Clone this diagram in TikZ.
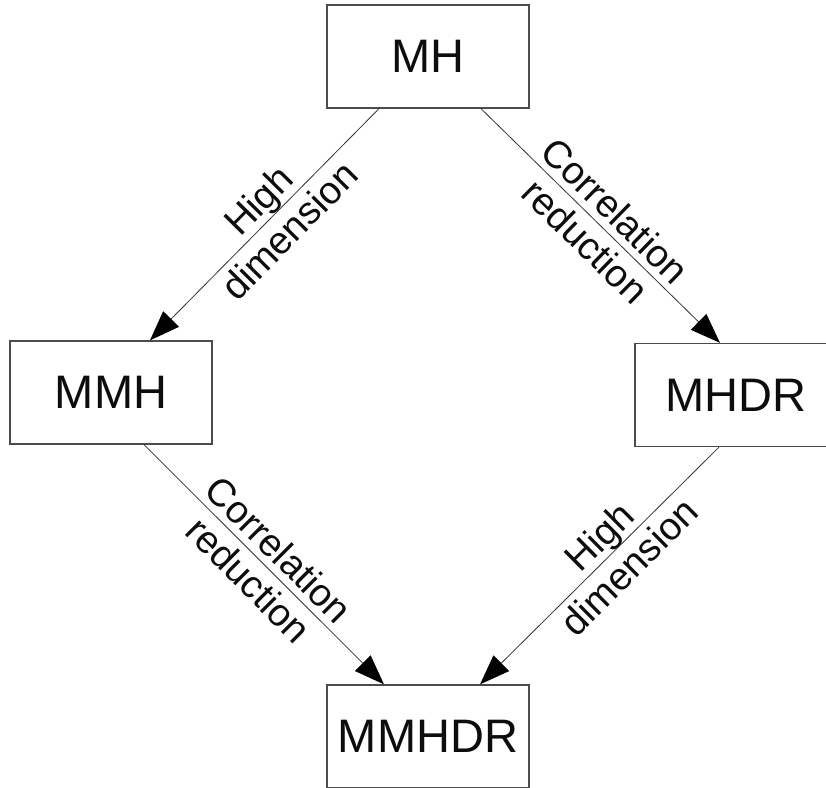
\documentclass[tikz,border=0pt]{standalone}
\usepackage{fontspec}
\setmainfont{Liberation Sans}
\usetikzlibrary{arrows.meta}
\begin{document}
\begin{tikzpicture}[x=1pt,y=-1pt,
  box/.style={draw=black!70, line width=1.3pt, minimum width=202pt, minimum height=103pt, inner sep=0pt, font=\fontsize{47}{56}\selectfont, text=black!95},
  conn/.style={draw=black!80, line width=0.8pt, -{Triangle[length=30pt,width=22pt,fill=black,color=black]}},
  lab/.style={sloped, align=center, font=\fontsize{38.5}{43}\selectfont, inner sep=0pt, text=black!95}]
\clip (0,0) rectangle (826,787);
\fill[white] (0,0) rectangle (826,787);
\node[box] (mh)    at (428,56.5)  {MH};
\node[box] (mmh)   at (111,392.5) {MMH};
\node[box] (mhdr)  at (736,395)   {MHDR};
\node[box] (mmhdr) at (428,736.5) {MMHDR};
\draw[conn] ([xshift=-49pt]mh.south) -- ([xshift=39pt]mmh.north)
  node[lab, pos=0.46] {High\\dimension};
\draw[conn] ([xshift=53pt]mh.south) -- ([xshift=-16pt]mhdr.north)
  node[lab, pos=0.5] {Correlation\\reduction};
\draw[conn] ([xshift=33pt]mmh.south) -- ([xshift=-44pt]mmhdr.north)
  node[lab, pos=0.5] {Correlation\\reduction};
\draw[conn] ([xshift=-17pt]mhdr.south) -- ([xshift=52pt]mmhdr.north)
  node[lab, pos=0.44] {High\\dimension};
\end{tikzpicture}
\end{document}
